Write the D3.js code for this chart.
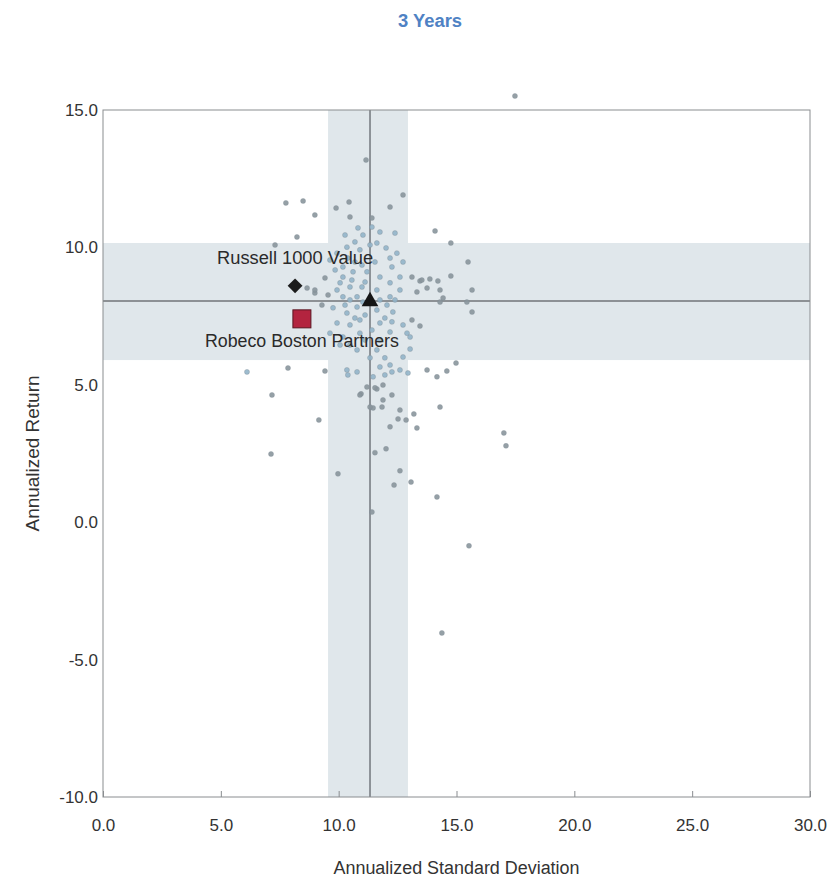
<!DOCTYPE html>
<html>
<head>
<meta charset="utf-8">
<script src="https://cdn.jsdelivr.net/npm/d3@7"></script>
<style>
  html, body { margin: 0; padding: 0; background: #ffffff; }
  svg { display: block; }
</style>
</head>
<body>
<div id="chart"></div>
<script>
// ---------------- DATA ----------------
const chartTitle = "3 Years";
const xAxisTitle = "Annualized Standard Deviation";
const yAxisTitle = "Annualized Return";
const xTicks = [0, 5, 10, 15, 20, 25, 30];
const yTicks = [-10, -5, 0, 5, 10, 15];

// Universe of peer managers: [annualized std dev, annualized return]
const peerStdDev = [
  17.48, 11.16, 7.76, 8.49, 10.44, 9.89, 8.99, 10.48, 12.73, 12.18,
  11.41, 8.23, 7.30, 14.09, 14.76, 15.49, 15.66, 15.66, 15.44, 14.76,
  14.21, 14.30, 13.87, 13.45, 13.32, 13.11, 12.60, 12.39, 11.75, 11.41,
  14.43, 14.30, 13.75, 12.73, 13.11, 13.45, 13.03, 13.03, 12.94, 12.73,
  12.60, 12.18, 12.26, 11.96, 11.75, 11.96, 11.46, 11.20, 11.62, 11.88,
  12.26, 11.88, 10.95, 11.46, 12.60, 13.19, 12.52, 12.86, 12.18, 13.32,
  10.78, 10.39, 10.35, 9.42, 7.85, 6.11, 7.17, 9.16, 7.13, 9.97,
  11.54, 12.01, 12.60, 13.07, 12.35, 14.17, 11.41, 15.53, 14.38, 17.01,
  17.10, 14.98, 14.59, 14.17, 13.75, 14.30, 8.66, 8.99, 11.03, 11.62,
  10.69, 10.35, 10.90, 12.47, 12.18, 12.26, 10.18, 9.93, 9.42, 10.18,
  10.61, 11.20, 11.75, 13.53, 9.93, 10.48, 10.99, 11.62, 12.18, 10.18,
  10.78, 12.18, 11.75, 8.99, 11.03, 9.76, 10.35, 10.78, 11.62, 12.05,
  12.30, 9.93, 10.48, 10.90, 11.75, 12.26, 12.73, 9.63, 10.18, 10.90,
  12.18, 12.90, 11.62, 10.78, 11.33, 10.90, 11.54, 11.33, 11.84, 9.63,
  9.85, 10.39, 10.69, 10.99, 10.06, 10.56, 10.27, 10.48, 11.12, 11.33,
  10.82, 10.27, 9.29, 9.55, 11.12, 10.69, 11.41, 11.12, 10.06, 10.48,
  11.75, 11.96, 12.39, 12.60, 12.01, 11.54
];
const peerReturn = [
  15.51, 13.18, 11.62, 11.69, 11.65, 11.43, 11.18, 11.11, 11.91, 11.47,
  11.07, 10.38, 10.09, 10.60, 10.16, 9.47, 8.45, 7.65, 8.01, 8.96,
  8.78, 8.45, 8.85, 8.78, 8.38, 8.92, 8.92, 10.52, 10.56, 10.74,
  8.16, 8.01, 8.52, 9.47, 7.36, 7.14, 6.74, 6.30, 5.43, 6.01,
  5.54, 5.72, 5.47, 5.36, 5.65, 5.98, 5.29, 4.92, 4.85, 4.99,
  4.63, 4.45, 4.67, 4.16, 4.08, 3.94, 3.76, 3.72, 3.47, 3.43,
  5.47, 5.36, 5.54, 5.50, 5.61, 5.47, 4.63, 3.72, 2.48, 1.76,
  2.53, 2.67, 1.87, 1.46, 1.35, 0.92, 0.37, -0.86, -4.03, 3.25,
  2.78, 5.79, 5.50, 5.29, 5.54, 4.19, 8.52, 8.34, 10.45, 10.16,
  10.20, 10.01, 9.91, 9.79, 9.61, 9.29, 9.29, 9.79, 8.89, 8.92,
  9.11, 9.11, 8.92, 8.81, 8.45, 8.56, 8.56, 8.45, 8.71, 8.20,
  8.20, 8.20, 8.09, 8.45, 8.01, 7.80, 7.61, 7.83, 7.72, 7.90,
  7.65, 7.25, 7.18, 7.36, 7.25, 7.29, 7.18, 6.88, 6.74, 6.88,
  6.92, 6.88, 6.27, 6.27, 5.98, 4.63, 4.89, 4.19, 4.19, 9.54,
  9.18, 9.61, 9.47, 9.36, 8.71, 8.81, 7.90, 8.09, 8.74, 10.09,
  10.71, 10.45, 7.90, 8.27, 7.54, 7.43, 6.99, 6.63, 6.45, 6.45,
  6.63, 7.43, 8.09, 8.45, 9.98, 9.47
];

// Highlighted series
const seriesNames = ["Russell 1000 Value", "Robeco Boston Partners", "Universe Median"];
const seriesStdDev = [8.15, 8.44, 11.33];
const seriesReturn = [8.60, 7.40, 8.00];

// Universe median cross-hair and interquartile bands
const medianStdDev = 11.33;
const medianReturn = 8.05;
const bandStdDev = [9.55, 12.94];
const bandReturn = [5.90, 10.16];

// ---------------- CHART ----------------
const W = 835, H = 884;
const margin = { left: 103, right: 25, top: 110, bottom: 87 };
const font = "'Liberation Sans', Arial, sans-serif";
const textColor = "#333";
const fmt = d => d3.format(".1f")(d).replace("\u2212", "-");

const svg = d3.select("#chart").append("svg")
  .attr("width", W).attr("height", H);

const x = d3.scaleLinear().domain([0, 30]).range([margin.left, W - margin.right]);
const y = d3.scaleLinear().domain([-10, 15]).range([H - margin.bottom, margin.top]);

// Title
svg.append("text")
  .attr("x", 430).attr("y", 27)
  .attr("text-anchor", "middle")
  .attr("textLength", 64).attr("lengthAdjust", "spacingAndGlyphs")
  .style("font-family", font)
  .style("font-weight", "bold")
  .style("font-size", "18px")
  .style("fill", "#4f82c4")
  .text(chartTitle);

const plot = svg.append("g");

// bands
const bandColor = "#e0e7eb";
plot.append("rect")
  .attr("x", x(bandStdDev[0])).attr("y", y(15))
  .attr("width", x(bandStdDev[1]) - x(bandStdDev[0]))
  .attr("height", y(-10) - y(15))
  .attr("fill", bandColor);
plot.append("rect")
  .attr("x", x(0)).attr("y", y(bandReturn[1]))
  .attr("width", x(30) - x(0))
  .attr("height", y(bandReturn[0]) - y(bandReturn[1]))
  .attr("fill", bandColor);

// cross-hair
plot.append("line")
  .attr("x1", x(medianStdDev)).attr("x2", x(medianStdDev))
  .attr("y1", y(15)).attr("y2", y(-10))
  .attr("stroke", "#4a4f55").attr("stroke-width", 1.1);
plot.append("line")
  .attr("x1", x(0)).attr("x2", x(30))
  .attr("y1", y(medianReturn)).attr("y2", y(medianReturn))
  .attr("stroke", "#3a3d40").attr("stroke-width", 1.1);

// frame
plot.append("rect")
  .attr("x", x(0)).attr("y", y(15))
  .attr("width", x(30) - x(0)).attr("height", y(-10) - y(15))
  .attr("fill", "none").attr("stroke", "#8a8d90").attr("stroke-width", 1);

// x axis (ticks pointing up inside, labels below)
const xAxis = d3.axisBottom(x).tickValues(xTicks).tickSize(-6).tickPadding(22)
  .tickFormat(fmt);
const gx = svg.append("g").attr("transform", `translate(0,${y(-10)})`).call(xAxis);
gx.select(".domain").remove();
gx.selectAll(".tick line").attr("stroke", "#8a8d90");
gx.selectAll(".tick text")
  .style("font-family", font).style("font-size", "17px").attr("fill", textColor);

const yAxis = d3.axisLeft(y).tickValues(yTicks).tickSize(0).tickPadding(5)
  .tickFormat(fmt);
const gy = svg.append("g").attr("transform", `translate(${x(0)},0)`).call(yAxis);
gy.select(".domain").remove();
gy.selectAll(".tick text")
  .style("font-family", font).style("font-size", "17px").attr("fill", textColor);

// axis titles
svg.append("text")
  .attr("x", (x(0) + x(30)) / 2).attr("y", 874)
  .attr("text-anchor", "middle")
  .attr("textLength", 246).attr("lengthAdjust", "spacingAndGlyphs")
  .style("font-family", font).style("font-size", "18px").attr("fill", textColor)
  .text(xAxisTitle);
svg.append("text")
  .attr("transform", `translate(39,${(y(15) + y(-10)) / 2}) rotate(-90)`)
  .attr("text-anchor", "middle")
  .attr("textLength", 156).attr("lengthAdjust", "spacingAndGlyphs")
  .style("font-family", font).style("font-size", "18px").attr("fill", textColor)
  .text(yAxisTitle);

// peers
const peers = peerStdDev.map((s, i) => ({ s, r: peerReturn[i] }));
svg.append("g")
  .selectAll("circle").data(peers).join("circle")
  .attr("cx", d => x(d.s)).attr("cy", d => y(d.r))
  .attr("r", 2.5)
  .attr("fill", d => (Math.abs(d.s - medianStdDev) < 1.7 && Math.abs(d.r - medianReturn) < 2.8) || d.s < 6.5 ? "#93b5ca" : "#8a969d")
  .attr("stroke", "#7f8c94").attr("stroke-width", 0.4)
  .attr("opacity", 0.9);

// highlighted series
const hl = svg.append("g");
// Russell diamond
hl.append("path")
  .attr("transform", `translate(${x(seriesStdDev[0])},${y(seriesReturn[0])})`)
  .attr("d", d3.symbol().type(d3.symbolDiamond2).size(140)())
  .attr("fill", "#1c1c1c");
// Robeco square
hl.append("rect")
  .attr("x", x(seriesStdDev[1]) - 9).attr("y", y(seriesReturn[1]) - 9)
  .attr("width", 18).attr("height", 18)
  .attr("fill", "#b3243f").attr("stroke", "#5a1520").attr("stroke-width", 1);
// median triangle
hl.append("path")
  .attr("transform", `translate(${x(seriesStdDev[2])},${y(seriesReturn[2]) - 1})`)
  .attr("d", d3.symbol().type(d3.symbolTriangle).size(120)())
  .attr("fill", "#151515");

// labels
hl.append("text")
  .attr("x", x(seriesStdDev[0])).attr("y", y(seriesReturn[0]) - 22)
  .attr("text-anchor", "middle")
  .attr("textLength", 156).attr("lengthAdjust", "spacingAndGlyphs")
  .style("font-family", font).style("font-size", "18px").attr("fill", "#2a2a2a")
  .text(seriesNames[0]);
hl.append("text")
  .attr("x", x(seriesStdDev[1])).attr("y", y(seriesReturn[1]) + 28)
  .attr("text-anchor", "middle")
  .attr("textLength", 194).attr("lengthAdjust", "spacingAndGlyphs")
  .style("font-family", font).style("font-size", "18px").attr("fill", "#2a2a2a")
  .text(seriesNames[1]);
</script>
</body>
</html>
